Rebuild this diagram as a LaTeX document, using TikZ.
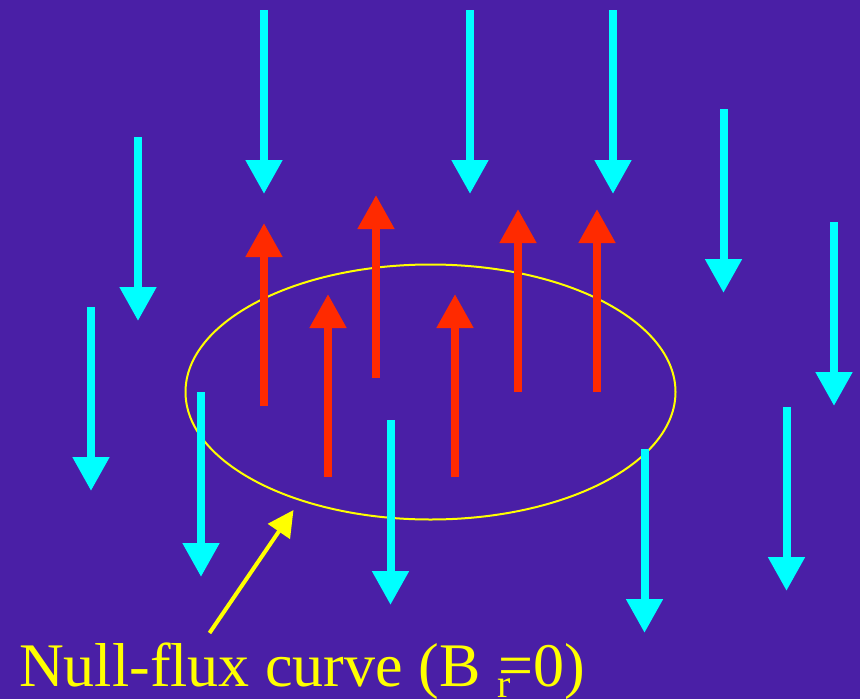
\documentclass[tikz,border=0pt]{standalone}
\usepackage{fontspec}
\setmainfont{Liberation Serif}
\usetikzlibrary{arrows.meta}
\definecolor{bg}{HTML}{4A1FA6}
\definecolor{fieldcyan}{HTML}{00FFFF}
\definecolor{fieldred}{HTML}{FF2A00}
\definecolor{nullyellow}{HTML}{FFFF00}
\begin{document}
\begin{tikzpicture}[x=1pt,y=-1pt,
  downarrow/.style={draw=fieldcyan, line width=8pt, -{Triangle[length=34pt,width=35pt]}},
  uparrow/.style={draw=fieldred, line width=8pt, -{Triangle[length=34pt,width=35pt]}},
  nullcurve/.style={draw=nullyellow, line width=2pt},
  pointer/.style={draw=nullyellow, line width=4pt, -{Triangle[length=26pt,width=26pt]}},
  labeltext/.style={text=nullyellow, inner sep=0pt, font=\fontsize{62}{62}\selectfont},
  subtext/.style={text=nullyellow, inner sep=0pt, font=\fontsize{40}{40}\selectfont}]
\fill[bg] (0,0) rectangle (860,699);
\useasboundingbox (0,0) rectangle (860,699);
% null-flux curve
\draw[nullcurve] (430.5,392) ellipse [x radius=245pt, y radius=127.5pt];
% upward (red) field lines
\foreach \x/\b/\t in {264/406/223, 376/378/195, 328/477/294, 455/477/294, 518/392/209, 597/392/209}
  \draw[uparrow] (\x,\b) -- (\x,\t);
% downward (cyan) field lines
\foreach \x/\b/\t in {264/10/194, 470/10/194, 613/10/194, 138/137/321, 723.5/109/293, 834/222/406,
  91/307/491, 201/392/577, 390.5/420/605, 644.5/449/633, 786.5/407/591}
  \draw[downarrow] (\x,\b) -- (\x,\t);
% pointer
\coordinate (ptrstart) at (209.5,633);
\coordinate (ptrtip) at (293.5,510);
\draw[pointer] (ptrstart) -- (ptrtip);
% label
\node[labeltext, anchor=base west] (label) at (19,686) {Null-flux curve (B};
\node[labeltext, anchor=base east] (labeleq) at (585,686) {=0)};
\node[subtext, anchor=base west] (labelr) at (497,697) {r};
\end{tikzpicture}
\end{document}
